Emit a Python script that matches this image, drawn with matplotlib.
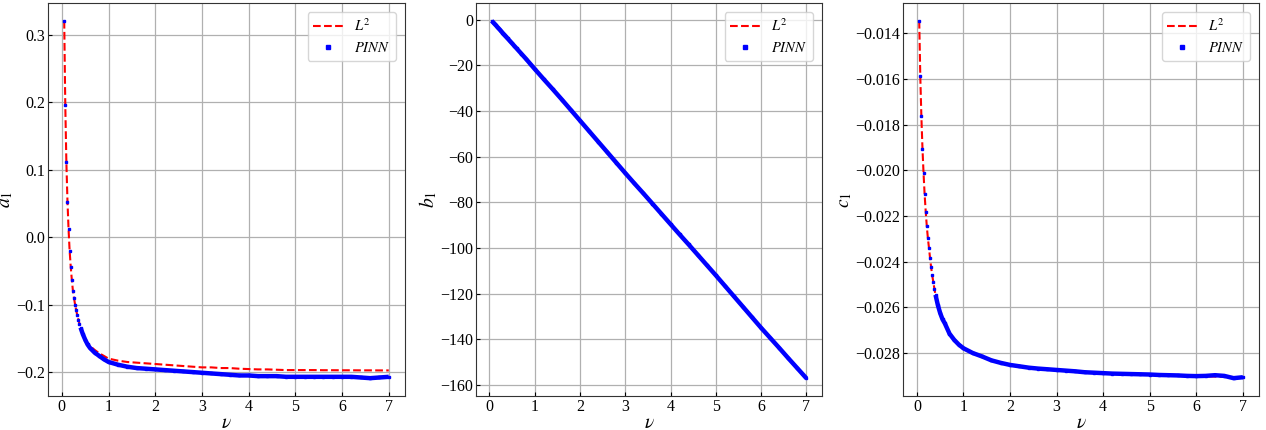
import matplotlib
matplotlib.use("Agg")
import matplotlib.pyplot as plt
from matplotlib.lines import Line2D

plt.rcParams['font.family'] = ['Liberation Serif', 'DejaVu Serif']
plt.rcParams['mathtext.fontset'] = 'stix'
plt.rcParams['xtick.direction'] = 'in'
plt.rcParams['ytick.direction'] = 'in'

# nu grid
nu = [0.05, 0.073, 0.096, 0.12, 0.143, 0.166, 0.19, 0.213, 0.236, 0.26,
      0.283, 0.306, 0.33, 0.353, 0.376, 0.4, 0.45, 0.5, 0.55, 0.6,
      0.7, 0.8, 0.9, 1.0, 1.2, 1.4, 1.6, 1.8, 2.0, 2.2,
      2.4, 2.6, 2.8, 3.0, 3.2, 3.4, 3.6, 3.8, 4.0, 4.2,
      4.4, 4.6, 4.8, 5.0, 5.2, 5.4, 5.6, 5.8, 6.0, 6.2,
      6.4, 6.6, 6.8, 7.0]

a1_l2 = [0.321, 0.196, 0.112, 0.053, 0.012, -0.020, -0.044, -0.063, -0.079, -0.090,
         -0.100, -0.108, -0.116, -0.122, -0.128, -0.134, -0.143, -0.151, -0.157, -0.161,
         -0.167, -0.172, -0.176, -0.180, -0.183, -0.185, -0.186, -0.187, -0.188, -0.189,
         -0.190, -0.191, -0.192, -0.193, -0.193, -0.194, -0.194, -0.195, -0.1955, -0.196,
         -0.196, -0.1965, -0.197, -0.197, -0.197, -0.197, -0.1972, -0.1972, -0.1973, -0.1973,
         -0.1974, -0.1974, -0.1975, -0.1975]
a1_pinn = [0.321, 0.196, 0.112, 0.053, 0.012, -0.020, -0.044, -0.063, -0.079, -0.090,
           -0.100, -0.108, -0.116, -0.122, -0.128, -0.134, -0.144, -0.152, -0.159, -0.164,
           -0.171, -0.176, -0.181, -0.185, -0.189, -0.192, -0.194, -0.195, -0.196, -0.197,
           -0.198, -0.199, -0.200, -0.201, -0.202, -0.203, -0.204, -0.205, -0.205, -0.206,
           -0.206, -0.206, -0.207, -0.207, -0.207, -0.207, -0.207, -0.207, -0.207, -0.207,
           -0.208, -0.209, -0.208, -0.207]

b1_l2 = [-0.5, -1.0, -1.5, -2.0, -2.5, -3.0, -3.5, -4.0, -4.5, -5.1,
         -5.6, -6.1, -6.6, -7.1, -7.6, -8.2, -9.3, -10.4, -11.5, -12.6,
         -14.8, -17.0, -19.3, -21.6, -26.1, -30.5, -35.0, -39.6, -44.2, -48.8,
         -53.4, -58.0, -62.6, -67.2, -71.7, -76.1, -80.6, -85.1, -89.6, -94.1,
         -98.5, -103.0, -107.5, -112.0, -116.6, -121.2, -125.8, -130.4, -135.0, -139.4,
         -143.8, -148.3, -152.7, -157.1]
b1_pinn = [-0.5, -1.0, -1.5, -2.0, -2.5, -3.0, -3.5, -4.0, -4.5, -5.1,
           -5.6, -6.1, -6.6, -7.1, -7.6, -8.2, -9.3, -10.4, -11.5, -12.6,
           -14.8, -17.0, -19.3, -21.6, -26.1, -30.5, -35.0, -39.6, -44.2, -48.8,
           -53.4, -58.0, -62.6, -67.2, -71.7, -76.1, -80.6, -85.1, -89.6, -94.1,
           -98.5, -103.0, -107.5, -112.0, -116.6, -121.2, -125.8, -130.4, -135.0, -139.4,
           -143.8, -148.3, -152.7, -157.1]

c1_l2 = [-0.01345, -0.01588, -0.01763, -0.01905, -0.02013, -0.02105, -0.02182, -0.02245, -0.02297, -0.02340,
         -0.02385, -0.02425, -0.02460, -0.02490, -0.02518, -0.02545, -0.02590, -0.02625, -0.02652, -0.02670,
         -0.02715, -0.02742, -0.02763, -0.02779, -0.02800, -0.02815, -0.02832, -0.02843, -0.02852, -0.02858,
         -0.02864, -0.02868, -0.02871, -0.02874, -0.02877, -0.02880, -0.02884, -0.02886, -0.02888, -0.02890,
         -0.02891, -0.02892, -0.02893, -0.02894, -0.02896, -0.02897, -0.02898, -0.02900, -0.02901, -0.02902,
         -0.02903, -0.02904, -0.02905, -0.02906]
c1_pinn = [-0.01345, -0.01588, -0.01763, -0.01905, -0.02013, -0.02105, -0.02182, -0.02245, -0.02297, -0.02340,
           -0.02385, -0.02425, -0.02460, -0.02490, -0.02518, -0.02545, -0.02590, -0.02625, -0.02652, -0.02670,
           -0.02715, -0.02742, -0.02763, -0.02779, -0.02800, -0.02815, -0.02832, -0.02843, -0.02852, -0.02858,
           -0.02864, -0.02868, -0.02871, -0.02874, -0.02877, -0.02880, -0.02884, -0.02886, -0.02888, -0.02890,
           -0.02891, -0.02892, -0.02893, -0.02894, -0.02896, -0.02897, -0.02898, -0.02900, -0.02901, -0.02900,
           -0.02897, -0.02900, -0.02910, -0.02906]

ylabels = [r"$a_1$", r"$b_1$", r"$c_1$"]
rects = [[0.0379, 0.079, 0.282, 0.914],
         [0.376, 0.079, 0.2733, 0.914],
         [0.7133, 0.079, 0.2812, 0.914]]

# index from which the PINN dots sit so close they form a solid band
dense_from = [15, 0, 15]


def draw_panel(ax, l2, pinn, ylab, k):
    ax.plot(nu, l2, color="red", ls="--", lw=1.5, zorder=2)
    ax.plot(nu[k:], pinn[k:], color="blue", lw=3.2, zorder=3,
            solid_capstyle="butt")
    ax.plot(nu, pinn, color="blue", ls="none", marker="s", ms=1.8, zorder=4)
    ax.grid(True, color="#b0b0b0", lw=0.9)
    ax.set_axisbelow(True)
    ax.set_xticks(range(8))
    ax.set_xlabel(r"$\nu$", fontsize=14, labelpad=0)
    ax.set_ylabel(ylab, fontsize=14, labelpad=1)
    ax.tick_params(labelsize=11.5, length=3, pad=2)
    for s in ax.spines.values():
        s.set_color("#333333")
    handles = [Line2D([], [], color="red", ls="--", lw=1.5),
               Line2D([], [], color="blue", ls="none", marker="s", ms=2.5)]
    ax.legend(handles, [r"$L^2$", r"$PINN$"], loc="upper right", fontsize=10.5,
              labelspacing=0.45, borderaxespad=0.6)


fig = plt.figure(figsize=(12.66, 4.30), dpi=100)
for rect, l2, pinn, ylab, k in zip(rects, [a1_l2, b1_l2, c1_l2],
                                   [a1_pinn, b1_pinn, c1_pinn], ylabels, dense_from):
    ax = fig.add_axes(rect)
    draw_panel(ax, l2, pinn, ylab, k)

fig.savefig("out.png", dpi=100)
